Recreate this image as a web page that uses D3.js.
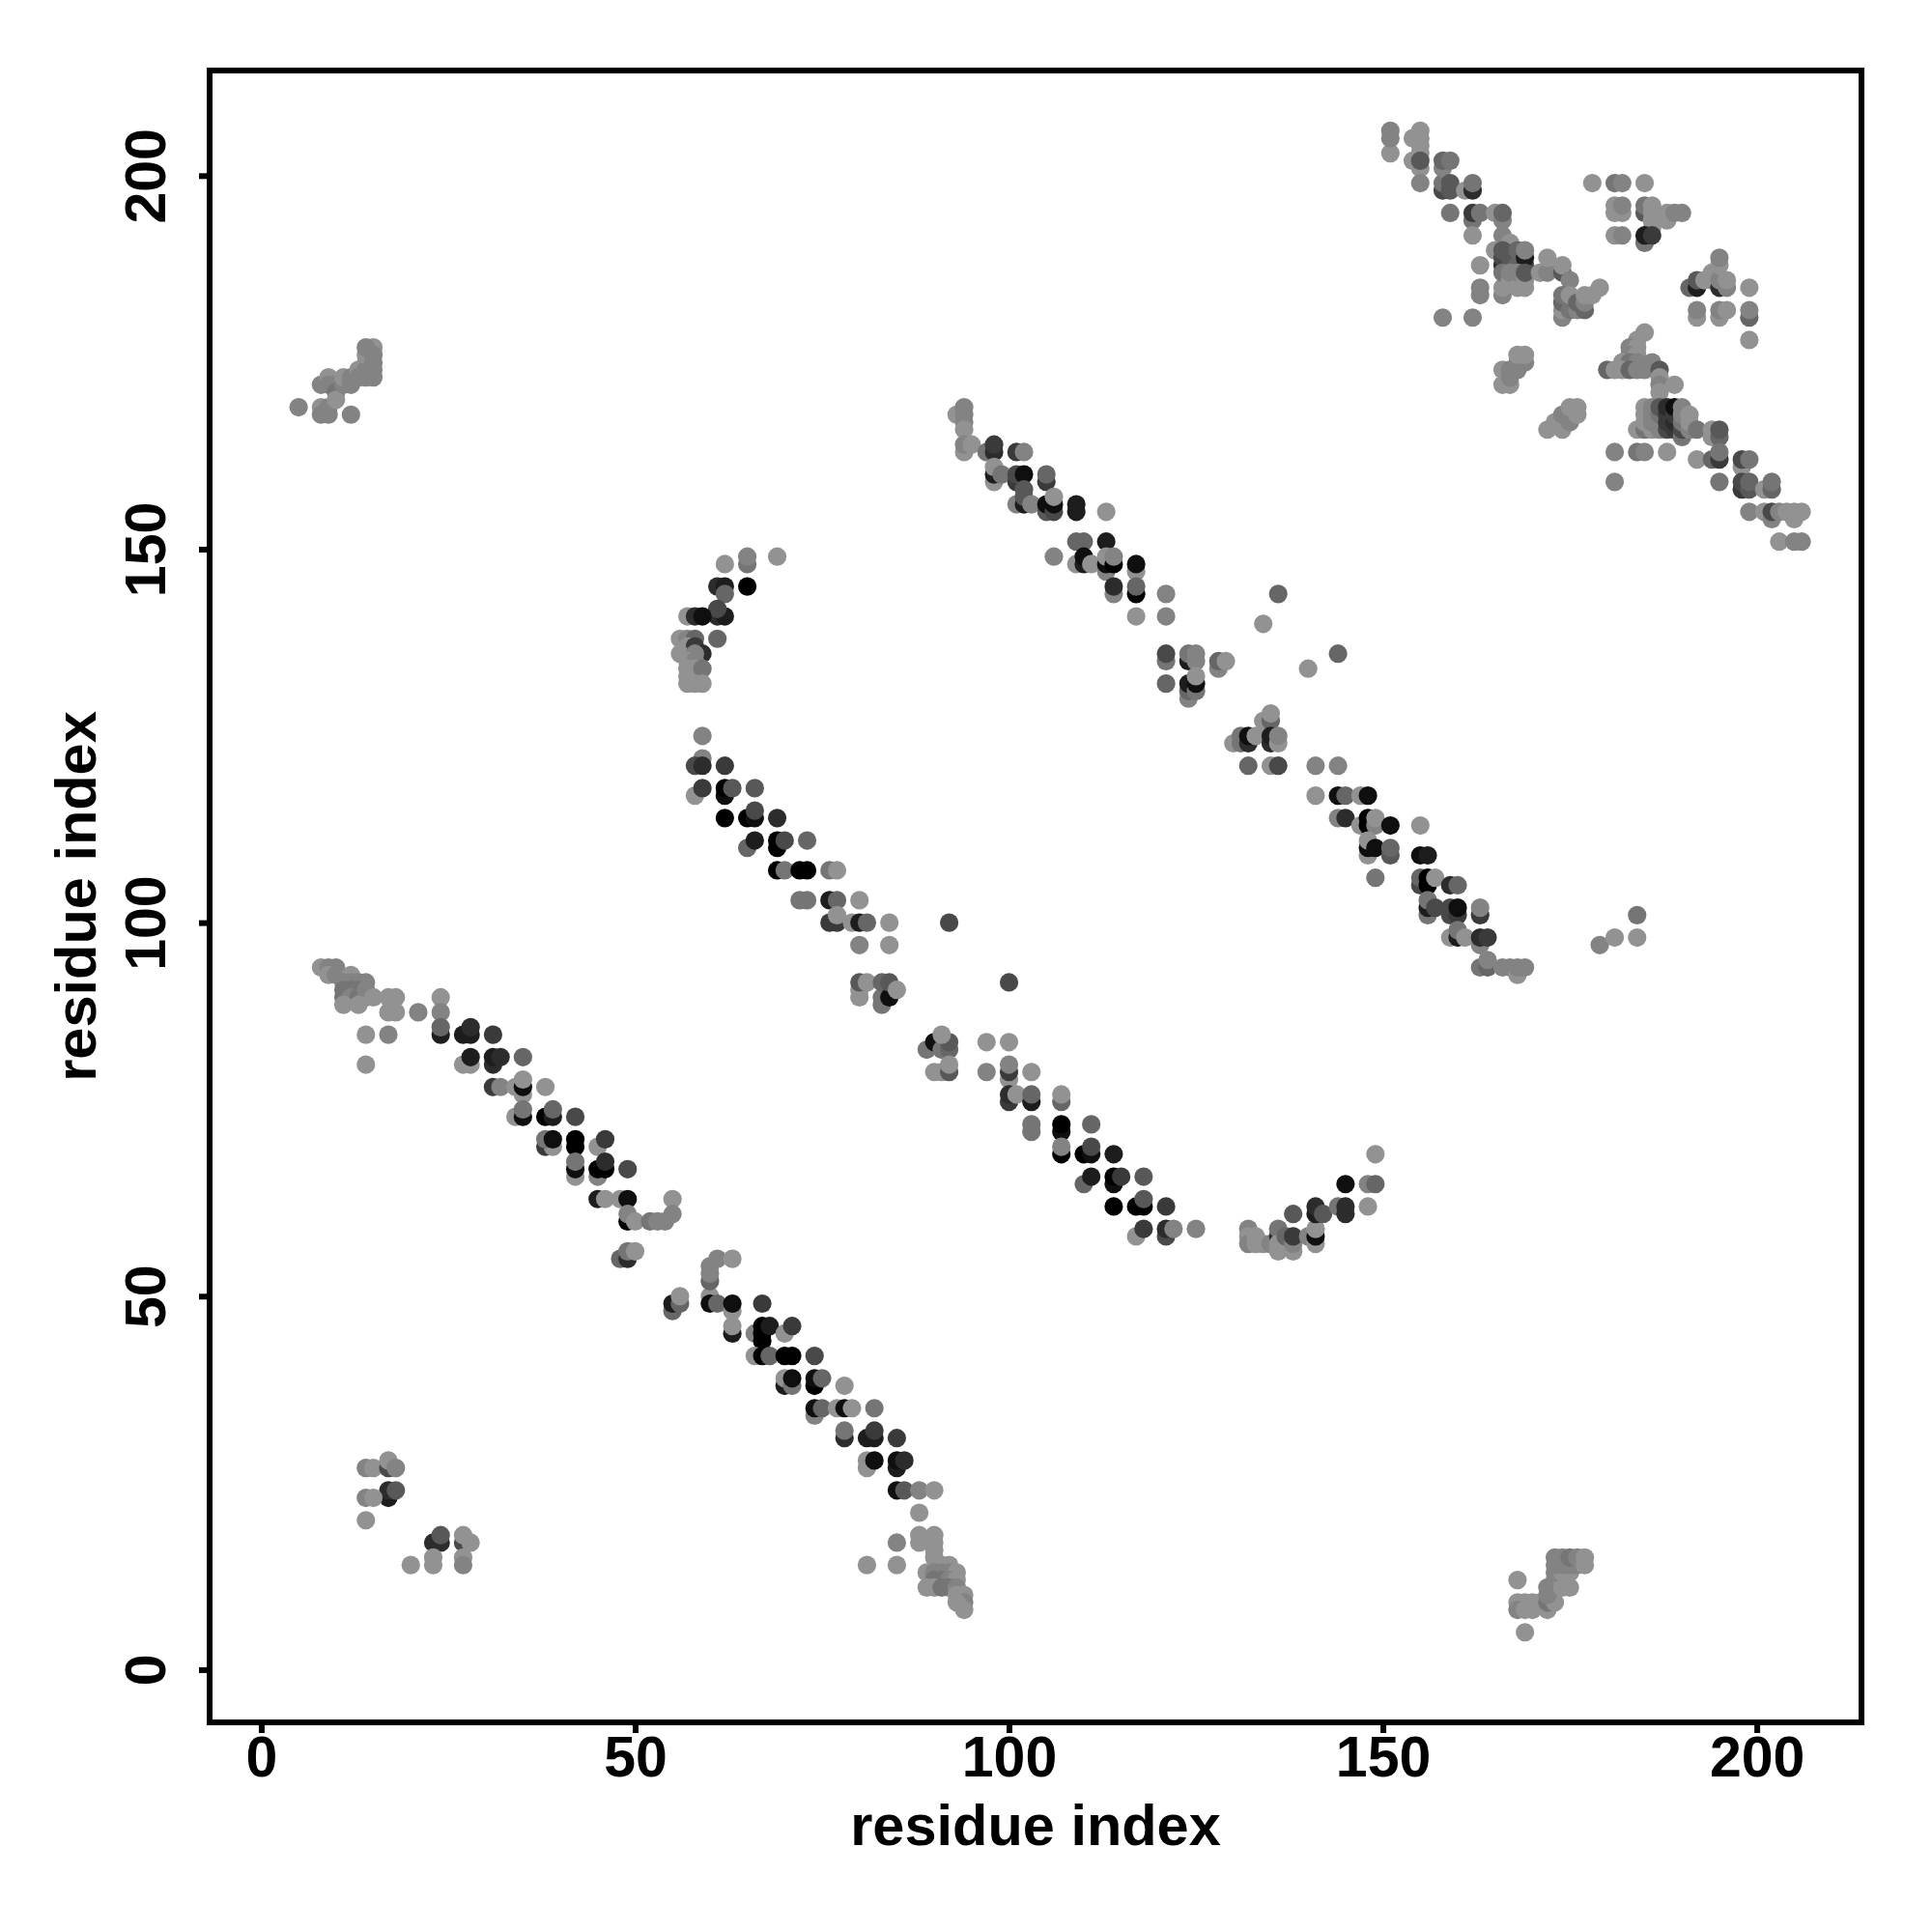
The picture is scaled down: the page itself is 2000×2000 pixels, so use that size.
<!DOCTYPE html>
<html><head><meta charset="utf-8">
<script src="https://cdn.jsdelivr.net/npm/d3@7"></script>
<style>html,body{margin:0;background:#fff}svg{display:block}text{font-family:"Liberation Sans",Arial,sans-serif;font-weight:bold;fill:#000}</style>
</head><body><svg id="c" width="2000" height="2000"></svg>
<script>
// each contact: [residue i, residue j, strength 0-10]
const xTicks=[0,50,100,150,200], yTicks=[0,50,100,150,200];
const axisTitle="residue index";
const upperLeftCluster=[[5,169,1],[8,169,0],[9,169,1],[8,168,1],[9,168,1],[12,168,1],[8,172,1],[9,173,0],[9,172,1],[10,172,1],[10,171,2],[10,170,0],[11,172,1],[11,173,0],[12,172,1],[12,173,1],[13,174,0],[13,173,1],[14,175,0],[14,174,1],[14,176,0],[15,177,0],[14,177,1],[15,176,1],[15,175,1],[15,174,1],[15,173,1],[14,173,1]];
const lowerLeftCluster=[[14,27,1],[15,27,0],[17,27,5],[17,28,0],[18,27,1],[17,23,8],[17,24,7],[18,24,4],[14,23,1],[15,23,0],[14,20,0],[23,17,7],[24,17,7],[24,18,4],[27,17,5],[27,18,0],[28,17,0],[20,14,0],[23,15,0],[23,14,0],[27,15,0],[27,14,1]];
const diagonalA=[[8,94,0],[9,94,1],[10,94,1],[9,93,0],[10,93,1],[12,93,0],[11,92,1],[12,92,1],[13,92,1],[14,92,1],[13,91,2],[11,91,2],[12,91,2],[11,90,2],[12,90,1],[13,90,2],[14,90,1],[14,91,1],[15,90,0],[17,90,0],[18,90,0],[11,89,0],[13,89,0],[17,88,0],[18,88,0],[21,88,1],[24,90,0],[24,88,1],[24,85,8],[24,86,3],[14,85,0],[17,85,1],[14,81,0],[27,85,8],[28,85,8],[28,86,7],[31,85,6],[27,81,0],[28,81,0],[31,81,7],[28,82,8],[31,82,8],[32,82,7],[35,82,3],[31,78,6],[32,78,1],[34,78,0],[35,77,0],[35,78,9],[35,79,0],[38,78,0],[34,74,0],[35,74,9],[35,75,2],[38,74,10],[39,74,8],[39,75,3],[42,74,5],[38,70,6],[39,70,0],[38,71,2],[39,71,9],[42,71,10],[42,70,10],[45,70,0],[46,71,6],[42,66,0],[42,67,9],[42,68,2],[45,66,1],[45,67,10],[46,67,10],[46,68,7],[49,67,5],[45,63,8],[46,63,0],[48,63,0],[49,63,9],[55,63,0],[49,60,10],[49,61,1],[50,60,0],[52,60,2],[53,60,1],[54,60,1],[55,61,1],[48,55,3],[49,55,7],[49,56,2],[50,56,0],[55,48,3],[55,49,8],[56,49,3],[56,50,0]];
const diagonalB=[[60,50,0],[60,49,9],[61,49,3],[60,52,3],[60,53,1],[60,54,1],[61,55,1],[63,55,0],[63,48,0],[63,49,9],[63,45,8],[63,46,0],[67,49,6],[66,45,1],[67,44,10],[67,45,10],[67,46,10],[68,46,8],[70,45,0],[71,46,6],[66,42,0],[67,42,10],[68,42,3],[70,42,10],[71,42,10],[74,42,5],[70,38,8],[70,39,0],[71,38,2],[71,39,9],[74,38,10],[74,39,9],[75,39,3],[78,38,0],[74,34,1],[74,35,9],[75,35,3],[77,35,0],[78,35,9],[79,35,0],[82,35,2],[78,31,7],[78,32,2],[81,31,8],[82,31,8],[82,32,6],[85,31,6],[81,27,0],[81,28,0],[82,28,9],[85,27,8],[85,28,9],[86,28,7],[85,24,9],[86,24,4],[88,24,1],[90,24,0],[88,21,0],[88,17,0],[88,18,0],[90,17,0],[90,18,0],[85,17,1],[81,14,0],[85,14,0],[90,16,0],[90,15,0],[91,14,0],[92,14,0],[89,13,0],[90,13,1],[91,13,1],[92,13,1],[93,13,0],[90,12,2],[91,12,2],[92,12,1],[93,12,0],[89,11,0],[90,11,0],[91,11,2],[92,11,2],[93,11,1],[94,10,0],[93,10,0],[94,9,1],[93,9,0],[94,8,0]];
const arcUpper=[[69,149,0],[65,148,2],[65,149,1],[62,148,0],[65,145,10],[61,145,7],[62,145,8],[62,144,3],[61,141,7],[62,141,8],[61,142,5],[57,141,0],[58,141,7],[59,141,9],[61,138,3],[56,138,0],[57,138,1],[58,138,3],[57,137,0],[58,137,6],[59,136,7],[56,136,0],[58,136,1],[57,135,0],[58,135,1],[57,134,0],[58,134,0],[57,133,0],[59,134,2],[57,132,0],[58,132,0],[59,132,0]];
const diagonalC=[[59,125,1],[59,122,1],[58,121,5],[59,121,7],[62,121,6],[58,117,0],[59,118,6],[62,117,9],[62,118,10],[63,118,4],[66,118,4],[62,114,10],[65,114,10],[66,114,9],[66,115,5],[69,114,7],[65,110,3],[66,111,8],[69,110,10],[69,111,10],[70,111,5],[73,111,3],[69,107,10],[70,107,2],[72,107,10],[73,107,10],[76,107,2],[77,107,0],[72,103,2],[73,103,2],[76,103,8],[77,103,3],[80,103,0],[76,100,6],[77,100,6],[77,101,0],[79,100,0],[80,100,8],[81,100,3],[84,100,0],[92,100,5],[80,97,1],[84,97,0],[100,92,5],[80,90,0],[80,91,0],[80,92,4],[81,92,0],[83,89,2],[83,90,2],[83,92,3],[84,90,9],[84,92,4],[85,91,0],[89,83,2],[90,84,9],[91,83,2],[92,83,3],[92,84,4],[91,85,0],[97,84,0],[100,84,0],[90,80,0],[91,80,0],[92,80,4],[92,81,0],[97,80,1],[100,79,0],[100,80,6],[100,81,1],[103,80,0],[100,76,6],[100,77,7],[101,77,0],[103,76,8],[103,77,3],[107,76,3],[107,77,0],[103,72,2],[103,73,2],[107,72,9],[107,73,10],[111,73,3],[107,69,10],[107,70,1],[110,69,10],[111,69,9],[111,70,5],[114,69,8],[110,65,3],[111,66,8],[114,65,9],[114,66,10],[115,66,6],[118,66,4],[114,62,10],[117,62,10],[118,62,10],[118,63,4],[121,62,6],[117,58,0],[118,59,6],[121,58,5],[121,59,7],[122,59,1],[125,59,1]];
const arcLower=[[132,59,1],[132,58,0],[132,57,1],[133,58,0],[133,57,0],[134,57,0],[135,57,1],[136,58,7],[136,59,2],[136,57,0],[136,56,0],[137,58,3],[138,56,0],[138,57,1],[138,58,6],[138,61,4],[140,58,1],[141,57,0],[141,58,9],[141,59,0],[141,61,8],[141,62,7],[142,61,4],[144,62,2],[145,61,7],[145,62,7],[145,65,9],[148,62,0],[148,65,1],[149,65,3],[149,69,0]];
const diagonalD=[[93,168,0],[94,169,1],[94,168,1],[94,167,1],[94,166,0],[94,163,0],[94,164,1],[95,164,0],[97,163,2],[98,163,7],[98,164,6],[101,163,6],[102,163,1],[98,159,0],[98,160,8],[98,161,0],[99,160,2],[101,159,6],[101,160,5],[102,160,9],[105,159,6],[105,160,3],[101,156,1],[102,156,8],[102,157,4],[102,158,4],[103,156,1],[105,155,4],[105,156,9],[106,155,5],[106,156,9],[106,157,0],[109,155,8],[109,156,8],[113,155,0],[109,151,3],[110,151,3],[113,151,8],[106,149,1],[109,148,0],[110,148,8],[110,149,9],[111,148,0],[113,147,1],[113,148,9],[113,149,0],[114,148,10],[114,149,1],[117,147,0],[117,148,9],[114,144,1],[114,145,7],[117,144,10],[117,145,3],[121,144,1],[117,141,0],[121,141,1],[136,144,3],[134,140,0],[121,135,2],[121,136,5],[124,135,8],[124,136,2],[125,135,1],[125,136,1],[128,134,1],[128,135,3],[129,135,0],[144,136,3],[140,134,0],[121,132,3],[124,130,1],[124,131,3],[124,132,8],[125,131,2],[125,132,9],[125,133,0],[134,127,0],[135,127,3],[135,128,0],[130,124,0],[131,124,2],[131,125,2],[132,124,7],[132,125,9],[133,125,0],[135,124,7],[135,125,8],[136,124,0],[136,125,1],[132,121,3],[135,121,0],[136,121,5],[141,121,1],[144,121,1],[141,117,0],[144,117,9],[145,117,3],[147,117,0],[148,117,9],[144,114,1],[145,114,7],[147,113,0],[148,113,10],[148,114,10],[149,113,1],[149,114,0],[151,113,9],[155,113,0],[148,109,0],[148,110,9],[148,111,0],[149,110,9],[151,109,4],[151,110,3],[149,106,2],[155,109,9],[156,109,8],[155,105,5],[155,106,3],[156,105,10],[156,106,10],[157,106,0],[159,105,7],[160,105,3],[156,101,2],[156,102,8],[156,103,2],[157,102,5],[159,101,5],[159,102,5],[160,101,6],[160,102,9],[163,101,6],[163,102,1],[159,98,0],[160,98,8],[160,99,2],[161,98,0],[163,97,1],[163,98,7],[164,98,6],[163,94,2],[164,94,3],[164,95,1],[166,94,1],[167,94,1],[168,93,0],[168,94,1],[169,94,1],[179,97,1],[181,98,0],[184,98,0],[184,101,2]];
const upperRightTop=[[151,203,0],[151,205,1],[151,206,1],[154,205,0],[154,202,0],[155,206,0],[155,205,0],[155,204,0],[155,203,0],[155,201,0],[155,202,4],[155,199,1],[158,198,5],[158,199,2],[158,201,1],[158,202,3],[159,198,4],[159,199,4],[159,202,2],[161,198,0],[162,198,7],[162,199,2],[159,195,2],[162,194,2],[162,195,6],[163,195,2],[165,195,0],[166,194,1],[166,195,3],[162,192,0],[166,192,1],[167,191,0],[165,190,0],[163,188,0],[166,188,7],[166,189,5],[166,190,4],[167,189,4],[168,188,3],[168,190,3],[169,188,5],[169,189,8],[169,190,1],[163,185,1],[163,184,1],[166,184,1],[166,185,0],[166,187,2],[167,186,0],[167,187,1],[168,185,0],[168,187,1],[169,185,0],[169,186,0],[169,187,4],[171,187,0],[172,187,1],[172,189,0],[174,187,4],[174,188,0],[175,186,1],[174,181,1],[174,182,0],[174,183,3],[174,184,2],[175,182,2],[175,184,0],[176,182,1],[176,183,3],[177,182,3],[177,183,1],[177,184,0],[178,184,0],[179,185,0],[158,181,1],[162,181,1]];
const upperRightBlocks=[[178,199,0],[181,199,2],[182,199,1],[185,199,0],[181,195,0],[181,196,0],[182,195,0],[182,196,1],[185,195,4],[185,196,2],[186,193,0],[186,194,0],[186,195,0],[186,196,0],[188,194,0],[188,195,0],[189,195,1],[190,195,1],[181,192,0],[182,192,1],[185,191,2],[185,192,8],[186,192,6],[191,185,3],[192,185,8],[192,186,4],[193,186,0],[194,186,0],[194,187,0],[195,185,7],[195,186,1],[195,188,0],[195,189,1],[196,185,1],[196,186,0],[199,185,0],[192,181,0],[192,182,1],[195,181,0],[195,182,1],[196,182,0],[199,181,3],[199,182,1],[199,178,0],[166,172,0],[166,174,0],[167,172,0],[167,173,1],[167,174,1],[168,174,1],[168,175,1],[169,175,1],[168,176,0],[169,176,0],[172,166,0],[173,167,0],[174,166,0],[174,167,0],[174,168,1],[175,167,1],[175,168,1],[176,168,0],[175,169,0],[176,169,0]];
const upperRightDiagonal=[[185,179,0],[184,178,0],[183,177,1],[184,177,0],[183,176,1],[184,176,0],[182,175,0],[183,175,2],[184,175,1],[180,174,3],[181,174,0],[182,174,0],[183,174,3],[184,174,1],[185,174,1],[186,175,1],[187,174,4],[187,173,0],[187,172,1],[187,171,0],[189,172,0],[184,166,0],[185,166,2],[185,167,0],[185,168,0],[185,169,0],[186,166,0],[186,167,1],[186,168,1],[186,169,1],[187,166,1],[187,167,1],[187,168,2],[187,169,4],[188,166,5],[188,167,6],[188,168,6],[188,169,7],[189,166,6],[189,167,7],[189,168,6],[189,169,9],[190,165,2],[190,166,5],[190,167,2],[190,168,1],[190,169,1],[191,166,1],[191,167,0],[191,168,0],[192,166,2],[194,165,0],[194,166,0],[195,165,3],[195,166,4],[181,163,1],[184,163,2],[185,163,1],[188,163,0],[181,159,1],[192,162,0],[194,162,3],[195,162,6],[195,163,2],[195,159,2],[198,161,0],[198,162,5],[199,162,2],[198,158,6],[198,159,5],[199,158,4],[199,159,3],[201,158,0],[202,158,3],[202,159,2],[199,155,1],[201,155,0],[202,154,1],[202,155,5],[203,155,1],[204,155,0],[205,154,0],[205,155,0],[206,155,0],[203,151,0],[205,151,1],[206,151,1]];
const lowerRightCluster=[[168,12,0],[168,9,0],[169,9,0],[170,9,0],[168,8,1],[169,8,0],[170,8,0],[169,5,0],[172,8,0],[171,9,0],[172,9,2],[173,9,0],[172,10,1],[172,11,1],[173,11,1],[173,12,1],[174,11,0],[174,12,0],[175,11,0],[173,13,1],[174,13,0],[175,13,0],[173,14,1],[174,14,1],[175,14,1],[176,14,1],[173,15,1],[174,15,1],[175,15,2],[176,15,1],[177,14,0],[177,15,0]];

const contacts=[upperLeftCluster,lowerLeftCluster,diagonalA,diagonalB,arcUpper,diagonalC,arcLower,diagonalD,upperRightTop,upperRightBlocks,upperRightDiagonal,lowerRightCluster].flat();

const L=217,R=1927,T=73,B=1783;
const x=d3.scaleLinear().domain([-6.9,214]).range([L,R]);
const y=d3.scaleLinear().domain([-7.06,214.07]).range([B,T]);
const shade=d3.scaleLinear().domain([0,10]).range([146,0]);
const svg=d3.select("#c");
svg.append("g").selectAll("circle").data(contacts).join("circle")
  .attr("cx",d=>x(d[0])).attr("cy",d=>y(d[1])).attr("r",9.6)
  .attr("fill",d=>{const g=Math.round(shade(d[2]));return `rgb(${g},${g},${g})`;});
svg.append("rect").attr("x",L).attr("y",T).attr("width",R-L).attr("height",B-T)
  .attr("fill","none").attr("stroke","#000").attr("stroke-width",6);
const ax=svg.append("g").attr("transform",`translate(0,${B})`)
  .call(d3.axisBottom(x).tickValues(xTicks).tickSize(11).tickPadding(3));
const ay=svg.append("g").attr("transform",`translate(${L},0)`)
  .call(d3.axisLeft(y).tickValues(yTicks).tickSize(11).tickPadding(0));
[ax,ay].forEach(g=>{g.select(".domain").remove();
  g.selectAll("line").attr("stroke","#000").attr("stroke-width",6);
  g.selectAll("text").style("font-size","59px").style("font-family",'"Liberation Sans",Arial,sans-serif').style("font-weight","bold").attr("fill","#000");});
ay.selectAll("text").attr("x",null).attr("y",null).attr("dy",null)
  .attr("text-anchor","middle")
  .attr("transform","translate(-46,0) rotate(-90)");
svg.append("text").attr("x",(L+R)/2).attr("y",1910).attr("text-anchor","middle")
  .style("font-size","59.5px").text(axisTitle);
svg.append("text").attr("transform",`translate(99,${(T+B)/2}) rotate(-90)`).attr("text-anchor","middle")
  .style("font-size","59.5px").text(axisTitle);
</script></body></html>
